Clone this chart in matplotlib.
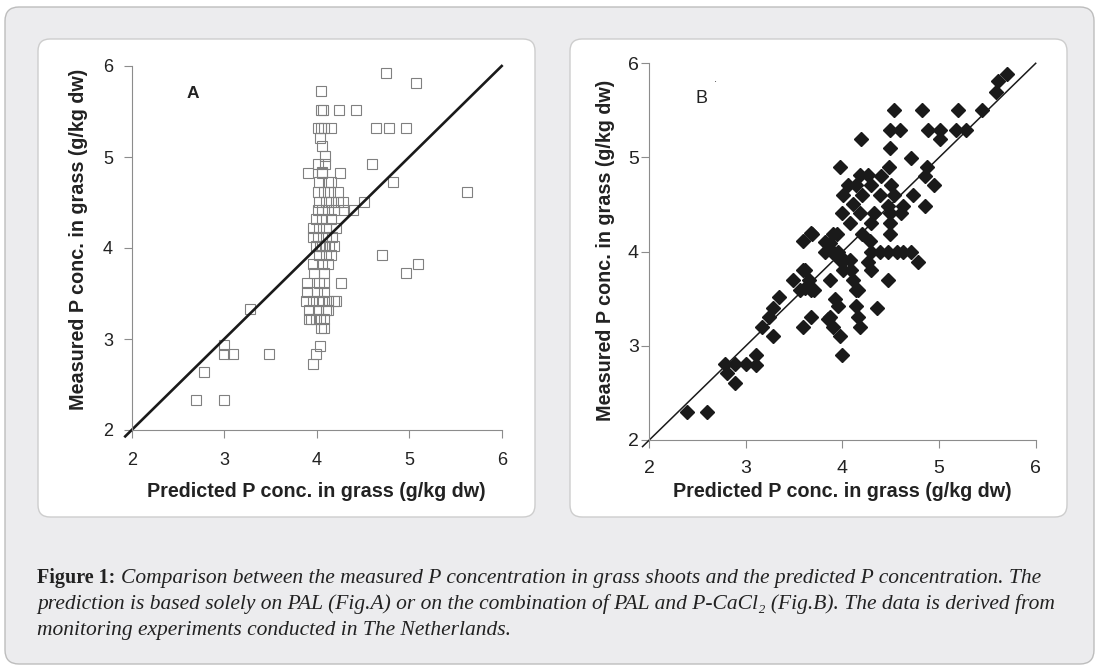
import matplotlib
matplotlib.use('Agg')
import matplotlib.pyplot as plt
from matplotlib.patches import FancyBboxPatch

# Panel A: prediction from PAL only
pred_a = [4.75, 5.07, 4.05,
          4.05, 4.07, 4.24, 4.42,
          4.01, 4.05, 4.08, 4.15, 4.64, 4.78, 4.96,
          4.04, 4.06, 4.09, 4.09, 4.01, 4.60,
          3.91, 4.06, 4.06, 4.25,
          4.82, 5.63, 4.51,
          4.03, 4.12, 4.15,
          4.01, 4.08, 4.14, 4.23,
          4.03, 4.10, 4.15, 4.23, 4.28,
          4.01, 4.06, 4.12, 4.19, 4.30, 4.39,
          3.99, 4.06, 4.15,
          3.96, 4.03, 4.10, 4.21,
          3.96, 4.01, 4.10, 4.17,
          3.99, 4.06, 4.13, 4.19, 4.04, 4.09,
          4.03, 4.10, 4.15, 4.71,
          3.96, 4.06, 4.12, 5.09,
          3.97, 4.08, 4.96,
          3.90, 4.08, 4.26, 4.02,
          3.90, 4.08, 4.00,
          3.88, 3.96, 4.03, 4.12, 4.19, 4.21, 4.06,
          3.92, 4.01, 4.12, 3.28, 4.10,
          3.92, 3.99, 4.08, 3.94, 4.04,
          4.05, 4.08,
          4.04, 3.99, 3.96,
          3.00, 3.00, 3.09, 3.48,
          2.78, 2.69, 3.00]
meas_a = [5.92, 5.81, 5.72,
          5.52, 5.52, 5.52, 5.52,
          5.32, 5.32, 5.32, 5.32, 5.32, 5.32, 5.32,
          5.21, 5.12, 5.01, 4.92, 4.92, 4.92,
          4.82, 4.82, 4.84, 4.82,
          4.72, 4.62, 4.51,
          4.72, 4.72, 4.72,
          4.62, 4.62, 4.62, 4.62,
          4.51, 4.51, 4.51, 4.51, 4.51,
          4.42, 4.42, 4.42, 4.42, 4.42, 4.42,
          4.32, 4.32, 4.32,
          4.22, 4.22, 4.22, 4.22,
          4.12, 4.12, 4.12, 4.12,
          4.02, 4.02, 4.02, 4.02, 4.02, 4.02,
          3.92, 3.92, 3.92, 3.92,
          3.82, 3.82, 3.82, 3.82,
          3.72, 3.72, 3.73,
          3.62, 3.62, 3.62, 3.62,
          3.52, 3.52, 3.52,
          3.42, 3.42, 3.42, 3.42, 3.42, 3.42, 3.42,
          3.32, 3.32, 3.32, 3.33, 3.32,
          3.22, 3.22, 3.22, 3.22, 3.22,
          3.12, 3.12,
          2.92, 2.83, 2.73,
          2.93, 2.83, 2.83, 2.83,
          2.64, 2.33, 2.33]

# Panel B: prediction from PAL and P-CaCl2
pred_b = [2.39, 2.60,
          2.78, 2.80, 2.89, 2.89, 3.00, 3.10, 3.10,
          3.17, 3.24, 3.28, 3.34, 3.28,
          3.49, 3.59, 3.56, 3.65, 3.67, 3.71, 3.59, 3.67, 3.61, 3.61,
          3.59, 3.67, 3.68,
          3.82, 3.90, 3.82, 3.90, 3.97, 3.87, 3.94, 3.89, 3.95,
          3.87, 3.92, 3.95, 3.87, 3.90, 3.85, 3.97, 3.99,
          3.97, 3.99, 4.01, 4.06, 4.02, 4.08, 4.01, 4.09, 4.11, 4.16, 4.14,
          4.19, 4.11, 4.14, 4.18, 4.26, 4.08, 4.18, 4.20, 4.20,
          4.14, 4.16, 4.18,
          4.28, 4.30, 4.39, 4.47, 4.56, 4.63, 4.71, 4.78,
          4.26, 4.30, 4.36, 4.47,
          4.30, 4.40, 4.33, 4.30, 4.39, 4.48, 4.50, 4.53, 4.47, 4.49, 4.49, 4.49,
          4.53, 4.49, 4.60, 4.49, 4.71, 4.63, 4.61, 4.73,
          4.82, 4.89, 5.01, 5.01, 4.87, 4.85, 4.95, 4.85,
          5.20, 5.18, 5.28, 5.44, 5.59, 5.61, 5.70]
meas_b = [2.30, 2.30,
          2.81, 2.71, 2.81, 2.60, 2.81, 2.90, 2.80,
          3.20, 3.31, 3.40, 3.52, 3.10,
          3.70, 3.81, 3.59, 3.70, 3.59, 3.59, 3.20, 3.31, 3.80, 3.61,
          4.11, 4.20, 4.19,
          4.10, 4.19, 4.00, 4.00, 3.91, 4.09, 4.19, 4.00, 4.00,
          3.70, 3.50, 3.42, 3.31, 3.20, 3.29, 3.10, 2.90,
          4.90, 4.41, 4.60, 4.71, 3.91, 3.91, 3.80, 3.80, 3.70, 3.59, 3.59,
          5.20, 4.51, 4.71, 4.81, 4.81, 4.30, 4.41, 4.60, 4.19,
          3.42, 3.31, 3.20,
          4.11, 4.00, 4.00, 4.00, 4.00, 4.00, 4.00, 3.89,
          3.89, 3.80, 3.40, 3.70,
          4.71, 4.80, 4.41, 4.30, 4.60, 4.90, 4.71, 4.60, 4.49, 4.41, 4.30, 4.19,
          5.50, 5.29, 5.29, 5.10, 4.99, 4.49, 4.41, 4.60,
          5.50, 5.29, 5.29, 5.20, 4.90, 4.80, 4.71, 4.49,
          5.50, 5.29, 5.29, 5.50, 5.70, 5.81, 5.89]

ticks = [2, 3, 4, 5, 6]
one_to_one = [1.93, 6]
xlabel = 'Predicted P conc. in grass (g/kg dw)'
ylabel = 'Measured P conc. in grass (g/kg dw)'
caption_head = 'Figure 1:'
caption_lines = [
    'Comparison between the measured P concentration in grass shoots and the predicted P concentration. The',
    'prediction is based solely on PAL (Fig.A) or on the combination of PAL and P-CaCl\u2082 (Fig.B). The data is derived from',
    'monitoring experiments conducted in The Netherlands.',
]

plt.rcParams['font.family'] = ['Liberation Sans', 'DejaVu Sans']
serif = ['Liberation Serif', 'DejaVu Serif']

fig = plt.figure(figsize=(11, 6.7), dpi=100)

# background boxes, drawn in pixel coordinates
bg = fig.add_axes([0, 0, 1, 1])
bg.set_xlim(0, 1100)
bg.set_ylim(670, 0)
bg.axis('off')
bg.add_patch(FancyBboxPatch((5, 7), 1089, 657, boxstyle='round,pad=0,rounding_size=14',
                            fc='#ECECEE', ec='#BDBDBD', lw=1))
for x0 in (38, 570):
    bg.add_patch(FancyBboxPatch((x0, 39), 497, 478, boxstyle='round,pad=0,rounding_size=12',
                                fc='white', ec='#CDCDCD', lw=1))

axA = fig.add_axes([131.7 / 1100, 1 - 430 / 670, 370 / 1100, 364 / 670])
axB = fig.add_axes([649.3 / 1100, 1 - 440 / 670, 386.4 / 1100, 376.7 / 670])


def style(ax, fs, ypad, xpad):
    ax.set_xlim(2, 6)
    ax.set_ylim(2, 6)
    ax.set_xticks(ticks)
    ax.set_yticks(ticks)
    ax.patch.set_alpha(0)
    for s in ('top', 'right'):
        ax.spines[s].set_visible(False)
    for s in ('left', 'bottom'):
        ax.spines[s].set_color('#8c8c8c')
        ax.spines[s].set_linewidth(0.8)
    ax.tick_params(direction='out', length=5.5, width=0.8, color='#8c8c8c',
                   labelsize=fs, labelcolor='#222222')
    ax.tick_params(axis='y', pad=ypad)
    ax.tick_params(axis='x', pad=xpad)


style(axA, 13, 8, 10)
axA.plot(pred_a, meas_a, 's', ms=7.5, mfc='none', mec='#808080', mew=0.8, clip_on=False)
axA.plot(one_to_one, one_to_one, color='#1a1a1a', lw=1.9, clip_on=False)
axA.text(2.66, 5.70, 'A', fontsize=12.5, fontweight='bold', ha='center', va='center', color='#222222')
axA.set_xlabel(xlabel, fontsize=14.2, fontweight='bold', color='#222222', va='center')
axA.set_ylabel(ylabel, fontsize=14.2, fontweight='bold', color='#222222', va='center')
axA.xaxis.set_label_coords(0.498, -0.1695)
axA.yaxis.set_label_coords(-0.145, 0.525)

style(axB, 14, 2, 9)
axB.plot(pred_b, meas_b, 'D', ms=7, color='#1a1a1a', mec='#1a1a1a', clip_on=False)
axB.plot(one_to_one, one_to_one, color='#1a1a1a', lw=1.1, clip_on=False)
axB.text(2.54, 5.63, 'B', fontsize=13, ha='center', va='center', color='#222222')
axB.text(2.68, 5.80, '\u00b7', fontsize=7, ha='center', va='center', color='#222222')
axB.set_xlabel(xlabel, fontsize=14.2, fontweight='bold', color='#222222', va='center')
axB.set_ylabel(ylabel, fontsize=14.2, fontweight='bold', color='#222222', va='center')
axB.xaxis.set_label_coords(0.5, -0.137)
axB.yaxis.set_label_coords(-0.1146, 0.504)

# caption: bold head followed by italic text
renderer = fig.canvas.get_renderer()
head = bg.text(37, 583, caption_head, family=serif, fontsize=14.5, fontweight='bold',
               va='baseline', color='#222222')
hx = bg.transData.inverted().transform((head.get_window_extent(renderer).x1, 0))[0]
for i, line in enumerate(caption_lines):
    x = hx + 6 if i == 0 else 37
    bg.text(x, 583 + 26 * i, line, family=serif, fontsize=15.5, style='italic',
            va='baseline', color='#222222')

fig.savefig('out.png', dpi=100, facecolor='white')
